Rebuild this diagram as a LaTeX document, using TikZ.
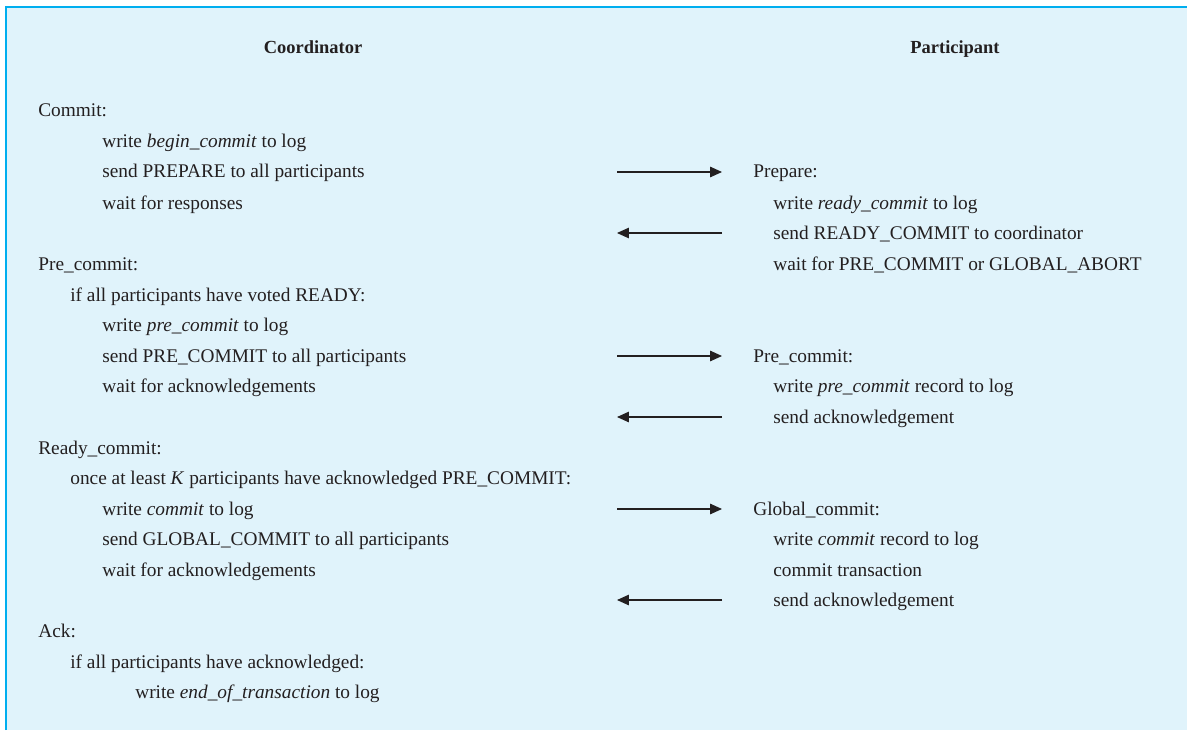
\documentclass[tikz,border=0pt]{standalone}
\usepackage{fontspec}
\setmainfont{Liberation Serif}
\usepackage{xcolor}
\usetikzlibrary{arrows.meta, positioning}
\definecolor{panelblue}{HTML}{E0F3FB}
\definecolor{rulecyan}{HTML}{00AEEF}
\definecolor{inkgray}{HTML}{231F20}
\tikzset{
  codeline/.style={anchor=base west, inner sep=0pt, text=inkgray,
                   font=\fontsize{11}{13}\selectfont},
  headline/.style={anchor=base, inner sep=0pt, text=inkgray,
                   font=\fontsize{10.5}{13}\selectfont\bfseries},
  msgarrow/.style={-{Triangle[length=6.8pt, width=6pt]}, line width=0.6pt, inkgray}
}

\begin{document}
\begin{tikzpicture}[x=0.2mm, y=-0.2mm]

\useasboundingbox (0,0) rectangle (1187,730);

% Panel
\fill[panelblue] (6,7) rectangle (1187,730);
\draw[rulecyan, line width=1.1pt] (6,730) -- (6,7) -- (1187,7);

% Headings
\node[headline] (coord) at (313,54) {Coordinator};
\node[headline] (part)  at (955,54) {Participant};

% Coordinator
\node[codeline] (commit)  at (38,117)  {Commit:};
\node[codeline] (wbegin)  at (102,148) {write \textit{begin\_commit} to log};
\node[codeline] (sprep)   at (102,178) {send PREPARE to all participants};
\node[codeline] (wresp)   at (102,209) {wait for responses};

\node[codeline] (precommit) at (38,270)  {Pre\_commit:};
\node[codeline] (ifready)   at (70,301)  {if all participants have voted READY:};
\node[codeline] (wpre)      at (102,331) {write \textit{pre\_commit} to log};
\node[codeline] (spre)      at (102,362) {send PRE\_COMMIT to all participants};
\node[codeline] (wackA)     at (102,392) {wait for acknowledgements};

\node[codeline] (readycommit) at (38,454)  {Ready\_commit:};
\node[codeline] (onceK)       at (70,484)  {once at least \textit{K} participants have acknowledged PRE\_COMMIT:};
\node[codeline] (wcommit)     at (102,515) {write \textit{commit} to log};
\node[codeline] (sglobal)     at (102,545) {send GLOBAL\_COMMIT to all participants};
\node[codeline] (wackB)       at (102,576) {wait for acknowledgements};

\node[codeline] (ack)     at (38,637)  {Ack:};
\node[codeline] (ifacked) at (70,668)  {if all participants have acknowledged:};
\node[codeline] (wend)    at (135,698) {write \textit{end\_of\_transaction} to log};

% Participant
\node[codeline] (prepare) at (753,178) {Prepare:};
\node[codeline] (wready)  at (773,209) {write \textit{ready\_commit} to log};
\node[codeline] (sready)  at (773,239) {send READY\_COMMIT to coordinator};
\node[codeline] (wglob)   at (773,270) {wait for PRE\_COMMIT or GLOBAL\_ABORT};

\node[codeline] (ppre)    at (753,362) {Pre\_commit:};
\node[codeline] (wprerec) at (773,392) {write \textit{pre\_commit} record to log};
\node[codeline] (sackA)   at (773,423) {send acknowledgement};

\node[codeline] (gcommit) at (753,515) {Global\_commit:};
\node[codeline] (wcomrec) at (773,545) {write \textit{commit} record to log};
\node[codeline] (ctrans)  at (773,576) {commit transaction};
\node[codeline] (sackB)   at (773,606) {send acknowledgement};

% Messages
\coordinate (m1a) at (617,172); \coordinate (m1b) at (722,172);
\coordinate (m2a) at (617,233); \coordinate (m2b) at (722,233);
\coordinate (m3a) at (617,356); \coordinate (m3b) at (722,356);
\coordinate (m4a) at (617,417); \coordinate (m4b) at (722,417);
\coordinate (m5a) at (617,509); \coordinate (m5b) at (722,509);
\coordinate (m6a) at (617,600); \coordinate (m6b) at (722,600);

\draw[msgarrow] (m1a) -- (m1b);
\draw[msgarrow] (m2b) -- (m2a);
\draw[msgarrow] (m3a) -- (m3b);
\draw[msgarrow] (m4b) -- (m4a);
\draw[msgarrow] (m5a) -- (m5b);
\draw[msgarrow] (m6b) -- (m6a);

\end{tikzpicture}
\end{document}
